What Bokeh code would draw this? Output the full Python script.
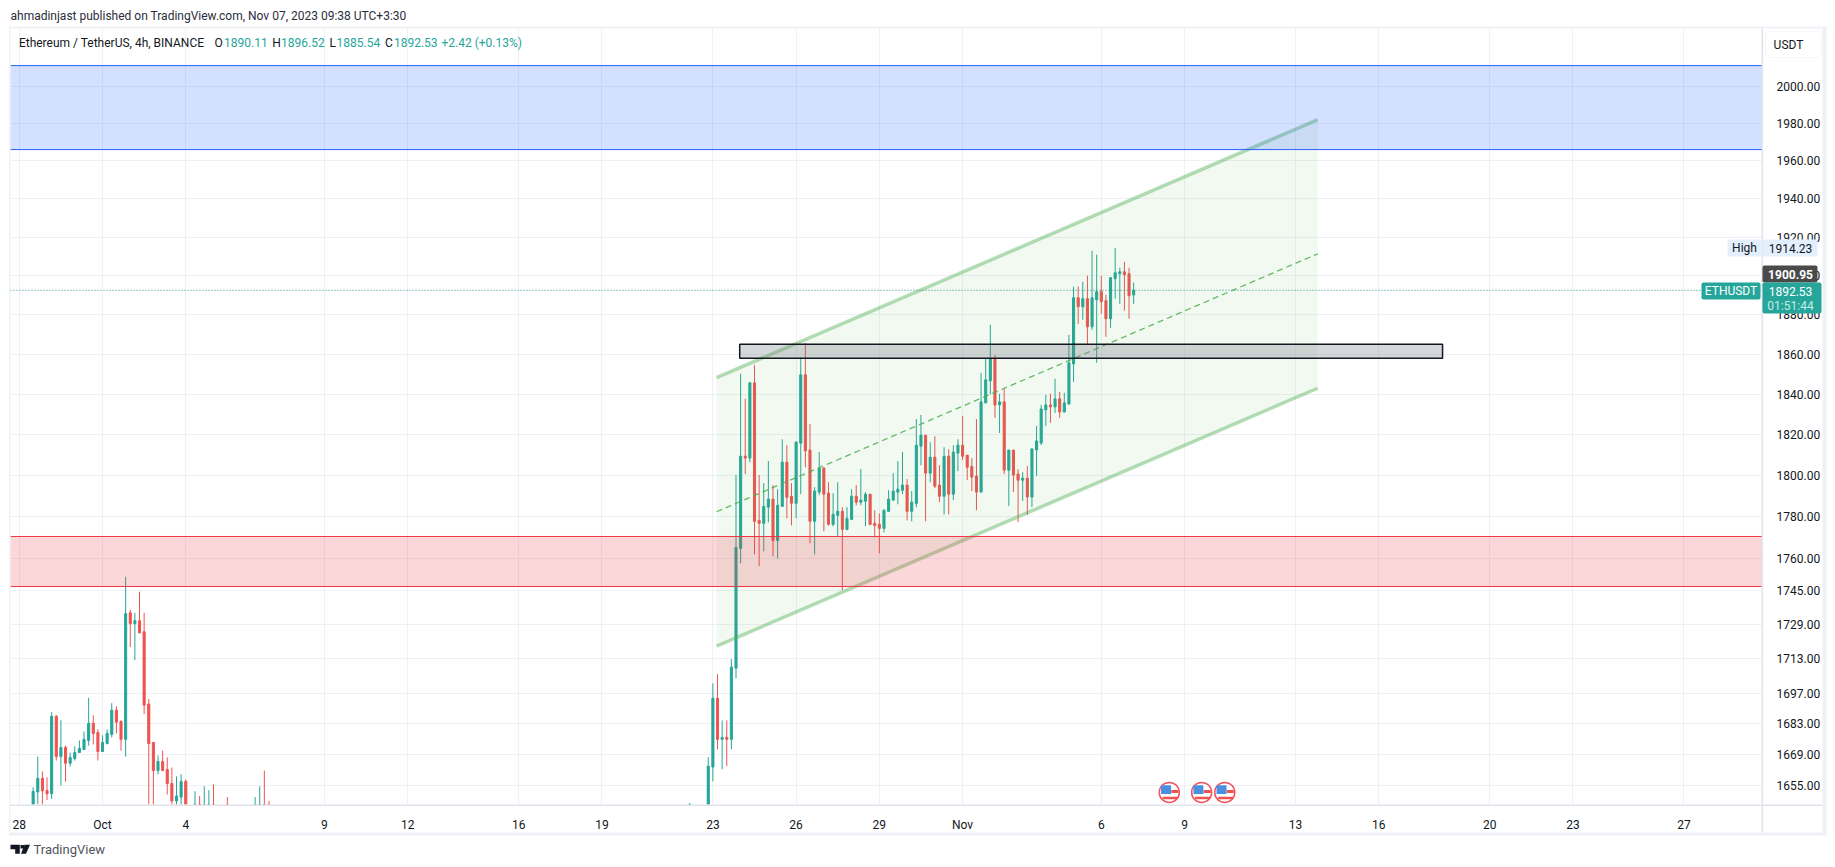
from bokeh.plotting import figure
from bokeh.layouts import column
from bokeh.models import Range1d, FixedTicker, PrintfTickFormatter, Label, BoxAnnotation, PolyAnnotation, Span
from bokeh.embed import file_html
from bokeh.resources import INLINE

GREEN = "#26a69a"
RED = "#ef5350"
FONT = "Roboto"

# bar number: 6 bars per day, bar 0 = Oct 1 00:00
bars_a = list(range(-15, 19))
open_a = [1640,1652.2,1658.3,1652.9,1651.4,1686.4,1668.1,1672.2,1665.1,1667.2,1669.9,1671.3,1675.4,1683.2,1679,1670.4,1674,
          1678.1,1689.2,1684,1675.9,1734.3,1729.2,1730.6,1725.4,1692,1674.5,1661.8,1665.9,1662.3,1656,1648.2,1649.9,1656.9]
high_a = [1654.3,1668.1,1661.4,1658.7,1688.3,1686.9,1684.6,1673.1,1669.9,1672.7,1675.4,1679.5,1694.8,1686.9,1680.4,1677.7,1680.4,
          1692.4,1691,1684.6,1751.3,1735.7,1734.3,1744.2,1734.3,1694.3,1674.5,1668.6,1670.8,1667.7,1663.2,1659.2,1660.1,1657.8]
low_a = [1636,1640,1640,1648.6,1649.1,1666.3,1655.1,1656.9,1663.6,1666.3,1669.9,1671.3,1673.1,1673.6,1666.3,1670.4,1673.6,
         1676.8,1678.6,1670.8,1668.1,1718.3,1712.2,1724.9,1687.4,1640,1640,1660.1,1661.8,1651.1,1640,1640,1640,1638]
close_a = [1652.5,1658.3,1652.7,1651.4,1686.4,1668.1,1672.2,1665.1,1667.7,1669.9,1671.8,1675.9,1683.2,1678.6,1670.4,1674.5,1678.6,
           1689.2,1683.7,1675.9,1733.9,1729.2,1730.6,1724.9,1691.5,1674,1661.8,1665.9,1661.8,1656,1648.2,1650.4,1656.9,1644]

bars_b = [20,21,22,23,24,27,33,34,35,36,127]
open_b = [1640,1646.7,1640,1640,1646.7,1644,1640,1640,1644,1644,1640]
high_b = [1652.5,1650.4,1654.7,1653,1655.6,1649.9,1649.9,1654.7,1661.8,1648.2,1647.3]
low_b = [1638,1638,1638,1638,1638,1638,1638,1638,1638,1638,1638]
close_b = [1646.7,1640,1645,1646.7,1640,1640,1644,1644,1640,1640,1644]

bars_c = list(range(131, 224))
open_c = [1640,1663.4,1694.6,1675.9,1676.8,1675.9,1708.5,1764.8,1809.4,1808.5,
          1845.7,1778.2,1776.8,1784.6,1788.5,1768.6,1785,1806.5,1789.9,1786.5,
          1815.8,1849.7,1812.4,1777.8,1791.9,1803.6,1791.4,1776.3,1780.7,1782.6,
          1773.9,1778.7,1789.9,1787,1787.5,1790.9,1776.8,1776.3,1774.4,1782.6,
          1788,1791.9,1792.8,1795.3,1782.6,1786.5,1814.3,1819.7,1801.1,1808.9,
          1795.3,1789.9,1809.4,1790.9,1810.9,1814.8,1809.9,1804.4,1799.7,1791.9,
          1835.7,1846.7,1857.7,1834.7,1836.2,1802.6,1812.4,1800.7,1797.7,1798.7,
          1789.5,1812.5,1815.9,1832.2,1834.7,1833.7,1837.7,1831.2,1835.2,1855.2,
          1888.7,1884.1,1888.2,1873.9,1887.7,1891.8,1887.2,1878,1898.5,1901,
          1902,1901,1890.11]
high_c = [1667.8,1701.5,1705.7,1684.5,1684.5,1712.7,1800.2,1850.2,1837.7,1846,
          1854.7,1800.2,1796.3,1807,1795.3,1793.3,1817.7,1814.8,1796.3,1816.7,
          1858.3,1865.7,1825.2,1794.3,1811.4,1804,1796.7,1791.4,1796.7,1784.6,
          1784.6,1793.3,1795.3,1803.1,1791.9,1790.9,1783.1,1781.6,1783.6,1792.8,
          1801.1,1807,1811.4,1798.2,1792.4,1827.7,1829.7,1819.7,1816.3,1819.2,
          1805,1813.8,1812.8,1814.8,1817.7,1829.2,1810,1808.5,1827.7,1850.7,
          1857.7,1874.9,1859.7,1840.2,1842.7,1812.5,1812.5,1803.1,1801.6,1804.6,
          1813,1824.3,1834.7,1839.7,1840.2,1847.7,1841.2,1840.7,1869.8,1894.4,
          1894.4,1896.9,1900,1912.8,1910.8,1900,1890.2,1899,1914.23,1904.1,
          1907.2,1904.1,1896.52]
low_c = [1638,1657,1671.4,1662.4,1663.8,1671.4,1703.9,1757.7,1800.7,1806.5,
         1761.9,1756.3,1763.4,1777.3,1761,1760,1785,1779.2,1775.8,1779.2,
         1790.9,1804,1767.2,1761.9,1790.4,1773,1775.8,1775.4,1770.4,1745,
         1773.5,1778.5,1785.5,1785.5,1775.4,1776,1770.1,1762.4,1772.5,1782.6,
         1788,1786,1790.9,1778.2,1777.8,1784.6,1805,1777.8,1796.7,1793.8,
         1787,1781.1,1781.1,1788,1802.1,1807.5,1797.7,1792.4,1783.1,1791.9,
         1835.7,1840,1828.3,1820.8,1800.7,1785.2,1791.9,1777.4,1787.6,1780.8,
         1784.7,1799.7,1814.9,1824.3,1825.8,1830.7,1828.3,1831,1834.7,1846.2,
         1875.4,1877.5,1865.1,1872.4,1855.7,1880.5,1868.8,1873.4,1888.2,1885.6,
         1882.1,1878,1885.54]
close_c = [1663.8,1694.6,1675.9,1676.8,1675.9,1709,1765.3,1809.4,1808.5,1845.7,
           1777.8,1776.8,1785,1788.5,1768.6,1785.5,1806.5,1789.4,1786.5,1816.3,
           1849.7,1812,1777.8,1792.4,1803.6,1790.9,1776.3,1781.1,1782.6,1773.9,
           1779.2,1789.9,1787,1788,1790.9,1776.3,1775.8,1774.4,1783.1,1788.5,
           1792.4,1793.3,1795.3,1782.6,1787,1814.8,1819.7,1801.1,1808.9,1794.8,
           1789.9,1809.4,1790.9,1811.4,1814.8,1809.4,1804,1799.2,1791.9,1836.2,
           1847.2,1857.7,1834.7,1836.2,1802.6,1812.4,1800.2,1797.7,1798.7,1789.5,
           1813,1816.9,1832.7,1834.7,1833.7,1837.7,1831.2,1835.7,1855.7,1888.7,
           1884.1,1888.2,1873.9,1888.7,1891.8,1886.7,1878,1899,1901.5,1902,
           1900.5,1889.7,1892.53]

bars = bars_a + bars_b + bars_c
opens = open_a + open_b + open_c
highs = high_a + high_b + high_c
lows = low_a + low_b + low_c
closes = close_a + close_b + close_c
assert len(bars) == len(opens) == len(highs) == len(lows) == len(closes)

date_ticks = [-18, 0, 18, 48, 66, 90, 108, 132, 150, 168, 186, 216, 234, 258, 276, 300, 318, 342]
date_labels = ["28", "Oct", "4", "9", "12", "16", "19", "23", "26", "29", "Nov", "6", "9", "13", "16", "20", "23", "27"]
price_ticks = [2000, 1980, 1960, 1940, 1920, 1900, 1880, 1860, 1840, 1820, 1800, 1780, 1760, 1745, 1729, 1713, 1697, 1683, 1669, 1655]

blue_zone = (1966, 2011.2)
red_zone = (1746.7, 1770.5)
grey_box = (137.8, 289.8, 1858, 1865.1)
channel_x = [132.8, 262.8]
channel_upper = [1848.3, 1982]
channel_mid = [1782.4, 1911.3]
channel_lower = [1718.7, 1843]
last_price = 1892.53
flag_bars = [230.7, 237.7, 242.7]
flag_price = 1652

W, H = 1835, 867
L, R, T, B = 10, 1762, 28, 804   # plot frame in page pixels
X0 = -19.9
PX_PER_BAR = 4.624
p = figure(width=W, height=H, output_backend="svg", toolbar_location=None,
           y_axis_type="log", y_axis_location="right", frame_align=False,
           x_range=Range1d(X0, X0 + (R - L) / PX_PER_BAR), y_range=Range1d(1646.6, 2031.5),
           min_border_left=L, min_border_right=W - R, min_border_top=T, min_border_bottom=H - B)
p.outline_line_color = None
p.background_fill_color = "white"

for ax in (p.xaxis[0], p.yaxis[0]):
    ax.axis_line_color = None
    ax.major_tick_line_color = None
    ax.minor_tick_line_color = None
    ax.major_label_text_color = "#131722"
    ax.major_label_text_font = FONT
    ax.major_label_text_font_size = "12px"
p.xaxis[0].ticker = FixedTicker(ticks=date_ticks)
p.xaxis[0].major_label_overrides = dict(zip(date_ticks, date_labels))
p.xaxis[0].major_label_standoff = 7
p.yaxis[0].ticker = FixedTicker(ticks=price_ticks)
p.yaxis[0].formatter = PrintfTickFormatter(format="%.2f")
p.yaxis[0].major_label_standoff = 8
p.xgrid[0].ticker = FixedTicker(ticks=date_ticks)
p.ygrid[0].ticker = FixedTicker(ticks=price_ticks)
for g in (p.xgrid[0], p.ygrid[0]):
    g.grid_line_color = "#eef0f5"
    g.grid_line_width = 1
    g.minor_grid_line_color = None

colors = [GREEN if c >= o else RED for o, c in zip(opens, closes)]
p.segment(bars, lows, bars, highs, color=colors, line_width=1)
p.vbar(bars, width=0.45, top=[max(o, c) for o, c in zip(opens, closes)],
       bottom=[min(o, c) for o, c in zip(opens, closes)], fill_color=colors, line_color=colors, line_width=1)

p.add_layout(Span(location=last_price, dimension="width", line_color="#1f8f84", line_dash="1 2", line_width=1.2))

# drawings sit above the candles
far_l, far_r = X0 - 20, 400
p.patch(channel_x + channel_x[::-1], channel_upper + channel_lower[::-1], fill_color="#4caf50", fill_alpha=0.08, line_color=None)
p.line(channel_x, channel_upper, line_color="#4caf50", line_alpha=0.42, line_width=3.5)
p.line(channel_x, channel_lower, line_color="#4caf50", line_alpha=0.42, line_width=3.5)
p.line(channel_x, channel_mid, line_color="#4caf50", line_alpha=0.85, line_width=1.3, line_dash="6 4")
p.quad(left=[far_l], right=[far_r], bottom=[blue_zone[0]], top=[blue_zone[1]], fill_color="#2962ff", fill_alpha=0.2, line_color="#2962ff", line_width=1)
p.quad(left=[far_l], right=[far_r], bottom=[red_zone[0]], top=[red_zone[1]], fill_color="#f23645", fill_alpha=0.2, line_color="#f23645", line_width=1)
p.quad(left=[grey_box[0]], right=[grey_box[1]], bottom=[grey_box[2]], top=[grey_box[3]], fill_color="#787b86", fill_alpha=0.3, line_color="#131722", line_width=1.5)

# economic-event flags
fy = [flag_price] * 3
p.scatter(flag_bars, fy, size=20, marker="circle", fill_color="white", line_color="#f5525f", line_width=1.5)
p.rect([b + 1.2 for b in flag_bars], [flag_price + 0.45] * 3, width=7, height=3, width_units="screen", height_units="screen", fill_color="#ef5350", line_color=None)
p.rect([b + 0.2 for b in flag_bars], [flag_price - 2.55] * 3, width=15, height=2.5, width_units="screen", height_units="screen", fill_color="#ef5350", line_color=None)
p.rect([b - 0.7 for b in flag_bars], [flag_price + 1.2] * 3, width=10, height=8.7, width_units="screen", height_units="screen", fill_color="#4a90e2", line_color=None)

# a transparent sheet the size of the page carries what lies outside the plot frame
sheet = figure(width=W, height=H, output_backend="svg", toolbar_location=None, frame_align=False,
               x_range=Range1d(0, W), y_range=Range1d(H, 0),
               min_border_left=0, min_border_right=0, min_border_top=0, min_border_bottom=0,
               x_axis_location=None, y_axis_location=None,
               styles={"position": "absolute", "left": "0px", "top": "0px"})
sheet.grid.visible = False
sheet.outline_line_color = None
sheet.background_fill_alpha = 0
sheet.border_fill_alpha = 0


def text(x, y, s, color="#131722", size=12, align="left", style="normal", font=FONT):
    sheet.add_layout(Label(x=x, y=y, text=s, text_color=color, text_font=font, text_font_size=f"{size}px",
                           text_align=align, text_baseline="middle", text_font_style=style))


def box(x0, y0, x1, y1, fill, line=None, radius=0, width=1):
    sheet.add_layout(BoxAnnotation(left=x0, right=x1, top=y0, bottom=y1, left_units="data", right_units="data",
                                   top_units="data", bottom_units="data", fill_color=fill, fill_alpha=1,
                                   line_color=line, line_width=width, border_radius=radius, editable=False))


# panel frame and axis rules
BORDER = "#f0f1f6"
box(8.5, 26, 1826, 28, BORDER)
box(8.5, 26, 10, 835, BORDER)
box(8.5, 832, 1826, 835, BORDER)
box(1822, 26, 1826, 835, BORDER)
box(10, 804, 1822, 805.5, "#e0e3eb")
box(1761, 28, 1762.5, 832, "#e0e3eb")

# page header
text(10, 15, "ahmadinjast published on TradingView.com, Nov 07, 2023 09:38 UTC+3:30", color="#2a2e39")
text(18.4, 42, "Ethereum / TetherUS, 4h, BINANCE")
for x, s in zip([214, 271.7, 329, 384.6], ["O", "H", "L", "C"]):
    text(x, 42, s)
for x, s in zip([223.5, 280.5, 336, 393.4, 441], ["1890.11", "1896.52", "1885.54", "1892.53", "+2.42 (+0.13%)"]):
    text(x, 42, s, color=GREEN)

# USDT button
box(1765, 31, 1821, 57, "white", line="#e0e3eb", radius=5)
text(1788, 44, "USDT", align="center")

# price tags
box(1727, 239, 1761, 256, "#e3effd", radius=2)
box(1762, 239, 1817, 256, "#e3effd", radius=2)
text(1744, 247.5, "High", align="center")
text(1790, 247.5, "1914.23", align="center")
box(1762, 265, 1817, 282, "#4a4a4a", radius=2)
text(1790, 273.5, "1900.95", color="white", align="center", style="bold")
box(1701, 282, 1760, 299, GREEN, radius=2)
text(1730.5, 290.5, "ETHUSDT", color="white", align="center")
box(1762, 282, 1821, 313, GREEN, radius=2)
text(1790, 291, "1892.53", color="white", align="center")
text(1790, 305, "01:51:44", color="#c4ebe6", align="center")

# TradingView mark
for xs, ys in [([10, 19.3, 19.3, 14.7, 14.7, 10], [844.3, 844.3, 853.3, 853.3, 848.7, 848.7]),
               ([20, 23.5, 23.5, 20], [844.5, 844.5, 848, 848]),
               ([24, 29.5, 25.5, 20.5], [844.3, 844.3, 853.3, 853.3])]:
    sheet.add_layout(PolyAnnotation(xs=xs, ys=ys, xs_units="data", ys_units="data", fill_color="#131722",
                                    fill_alpha=1, line_color=None, editable=False))
text(33, 849, "TradingView", color="#50535e", size=13)

open("out.html", "w").write(file_html(column(p, sheet), INLINE))
